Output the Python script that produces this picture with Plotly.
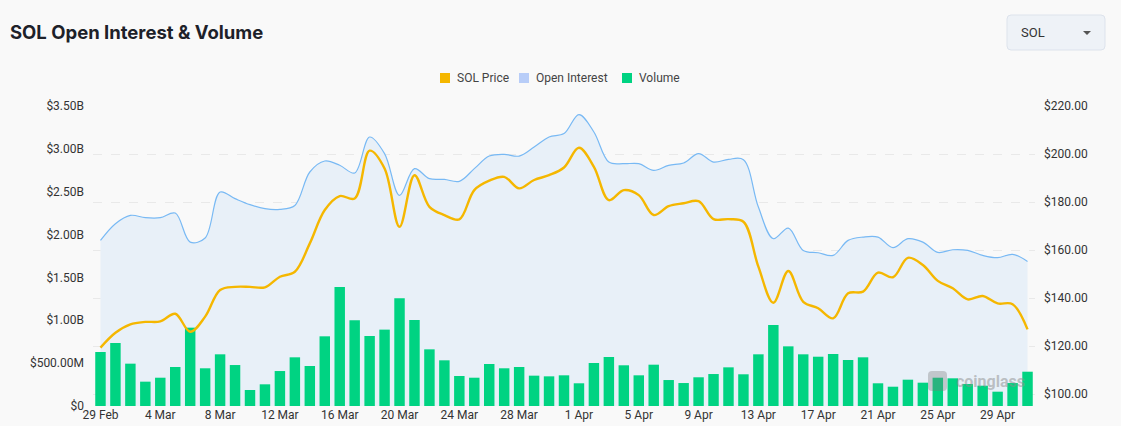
import pandas as pd
import plotly.graph_objects as go

# ---- data ----
dates = [d.strftime("%-d %b") for d in pd.date_range("2024-02-29", "2024-05-01", freq="D")]

volume = [630e6, 735e6, 494e6, 284e6, 330e6, 455e6, 914e6, 440e6, 603e6, 478e6,
          187e6, 253e6, 408e6, 568e6, 467e6, 813e6, 1389e6, 1000e6, 817e6, 891e6,
          1257e6, 1003e6, 661e6, 533e6, 350e6, 330e6, 490e6, 440e6, 455e6, 354e6,
          346e6, 358e6, 265e6, 502e6, 572e6, 475e6, 358e6, 482e6, 303e6, 268e6,
          335e6, 373e6, 451e6, 370e6, 603e6, 945e6, 696e6, 603e6, 575e6, 607e6,
          537e6, 568e6, 265e6, 225e6, 307e6, 272e6, 330e6, 323e6, 257e6, 237e6,
          167e6, 268e6, 400e6]

open_interest = [1.932e9, 2.127e9, 2.224e9, 2.197e9, 2.197e9, 2.251e9, 1.912e9, 1.96e9, 2.496e9, 2.419e9,
                 2.349e9, 2.302e9, 2.294e9, 2.34e9, 2.73e9, 2.858e9, 2.808e9, 2.718e9, 3.138e9, 2.944e9,
                 2.457e9, 2.769e9, 2.652e9, 2.644e9, 2.621e9, 2.769e9, 2.916e9, 2.936e9, 2.916e9, 3.021e9,
                 3.138e9, 3.178e9, 3.40e9, 3.197e9, 2.846e9, 2.827e9, 2.827e9, 2.749e9, 2.808e9, 2.835e9,
                 2.944e9, 2.846e9, 2.878e9, 2.874e9, 2.321e9, 1.952e9, 2.076e9, 1.815e9, 1.788e9, 1.757e9,
                 1.932e9, 1.971e9, 1.971e9, 1.847e9, 1.952e9, 1.912e9, 1.792e9, 1.823e9, 1.815e9, 1.757e9,
                 1.730e9, 1.769e9, 1.687e9]

sol_price = [119.4, 125.6, 129.1, 130.1, 130.3, 133.5, 126.0, 132.3, 143.4, 144.7,
             144.7, 144.5, 148.9, 151.0, 162.8, 176.7, 182.5, 181.5, 201.4, 194.0,
             169.7, 191.2, 178.0, 174.6, 172.8, 185.0, 188.9, 190.5, 185.7, 189.2,
             191.2, 194.4, 202.6, 194.7, 180.8, 185.0, 182.9, 174.6, 178.3, 179.5,
             180.4, 172.9, 172.9, 171.8, 153.1, 138.1, 151.3, 138.5, 135.8, 131.6,
             142.0, 142.7, 150.6, 148.7, 156.8, 153.8, 147.2, 144.1, 139.5, 140.9,
             137.8, 137.5, 127.0]

x_tick_labels = dates[::4]
left_tick_vals = [0, 0.5e9, 1.0e9, 1.5e9, 2.0e9, 2.5e9, 3.0e9, 3.5e9]
left_tick_text = ["$0", "$500.00M", "$1.00B", "$1.50B", "$2.00B", "$2.50B", "$3.00B", "$3.50B"]
right_tick_vals = [100, 120, 140, 160, 180, 200, 220]
right_tick_text = ["$%.2f" % v for v in right_tick_vals]
legend_names = ["SOL Price", "Open Interest", "Volume"]

# ---- style ----
C_PRICE = "#f5b700"
C_OI_LINE = "#78b9f4"
C_OI_FILL = "#e8f0f8"
C_OI_LEG = "#b8cdf8"
C_VOL = "#00d382"
BG = "#f9f9f9"
TXT = "#333333"

W, H = 1121, 426
ML, MR, MT, MB = 93, 86, 106, 20
PW, PH = W - ML - MR, H - MT - MB


def px_x(px):
    return (px - ML) / PW


def px_y(py):
    return (H - MB - py) / PH


def rounded_rect(xa, ya, xb, yb, r):
    pts = [
        f"M {px_x(xa + r)} {px_y(ya)}", f"L {px_x(xb - r)} {px_y(ya)}",
        f"Q {px_x(xb)} {px_y(ya)} {px_x(xb)} {px_y(ya + r)}",
        f"L {px_x(xb)} {px_y(yb - r)}",
        f"Q {px_x(xb)} {px_y(yb)} {px_x(xb - r)} {px_y(yb)}",
        f"L {px_x(xa + r)} {px_y(yb)}",
        f"Q {px_x(xa)} {px_y(yb)} {px_x(xa)} {px_y(yb - r)}",
        f"L {px_x(xa)} {px_y(ya + r)}",
        f"Q {px_x(xa)} {px_y(ya)} {px_x(xa + r)} {px_y(ya)} Z",
    ]
    return " ".join(pts)


fig = go.Figure()

fig.add_trace(go.Scatter(
    x=dates, y=open_interest, yaxis="y", mode="lines", name="Open Interest",
    line=dict(color=C_OI_LINE, width=1.2, shape="spline", smoothing=1.0),
    fill="tozeroy", fillcolor=C_OI_FILL, showlegend=False, hoverinfo="skip"))

fig.add_trace(go.Bar(
    x=dates, y=volume, yaxis="y2", name="Volume",
    marker=dict(color=C_VOL, line=dict(width=0)), showlegend=False))

fig.add_trace(go.Scatter(
    x=dates, y=sol_price, yaxis="y3", mode="lines", name="SOL Price",
    line=dict(color=C_PRICE, width=2.4, shape="spline", smoothing=1.0),
    showlegend=False))

fig.update_layout(
    width=W, height=H, autosize=False,
    margin=dict(l=ML, r=MR, t=MT, b=MB, pad=0, autoexpand=False),
    paper_bgcolor=BG, plot_bgcolor=BG,
    font=dict(family="Roboto, Inter, sans-serif", size=12, color=TXT),
    bargap=0.3,
    showlegend=False,
    title=dict(text="<b>SOL Open Interest &amp; Volume</b>", xref="container", yref="container",
               x=10 / W, xanchor="left", y=1 - 33 / H, yanchor="middle",
               font=dict(family="Inter, Roboto, sans-serif", size=18.5, color="#1d2129")),
    xaxis=dict(type="category", range=[-0.5, len(dates) - 0.5], automargin=False,
               tickmode="array", tickvals=x_tick_labels, ticktext=x_tick_labels,
               showgrid=False, zeroline=False, showline=False, ticks="",
               tickfont=dict(size=12, color=TXT)),
    yaxis=dict(range=[0, 3.5e9], tickvals=left_tick_vals, ticktext=left_tick_text,
               automargin=False,
               showgrid=False, zeroline=False, showline=False, ticks="",
               ticklabelstandoff=8, tickfont=dict(size=12, color=TXT)),
    yaxis2=dict(range=[0, 3.5e9], overlaying="y", visible=False),
    yaxis3=dict(range=[95.1, 220], overlaying="y", side="right", automargin=False,
                tickvals=right_tick_vals, ticktext=right_tick_text,
                showgrid=True, gridcolor="#e9e9e9", griddash="dash", gridwidth=1,
                zeroline=False, showline=False, ticks="",
                ticklabelstandoff=8, tickfont=dict(size=12, color=TXT)),
)

# custom legend (square + label)
legend_cols = [C_PRICE, C_OI_LEG, C_VOL]
legend_sq_x = [440, 519, 622]
for name, col, sx in zip(legend_names, legend_cols, legend_sq_x):
    fig.add_shape(type="rect", xref="paper", yref="paper",
                  x0=px_x(sx), x1=px_x(sx + 10), y0=px_y(83), y1=px_y(73),
                  fillcolor=col, line=dict(width=0), layer="above")
    fig.add_annotation(xref="paper", yref="paper", x=px_x(sx + 15), y=px_y(78), text=name,
                       showarrow=False, xanchor="left", yanchor="middle",
                       font=dict(family="Roboto, sans-serif", size=12, color="#444"))

# selector box
fig.add_shape(type="path", xref="paper", yref="paper", path=rounded_rect(1007, 15, 1105, 50, 4),
              fillcolor="#eef2f7", line=dict(color="#dde3ec", width=1), layer="above")
fig.add_annotation(xref="paper", yref="paper", x=px_x(1019), y=px_y(33), text="SOL",
                   showarrow=False, xanchor="left", yanchor="middle",
                   font=dict(size=13, color="#333"))
fig.add_shape(type="path", xref="paper", yref="paper",
              path="M %f %f L %f %f L %f %f Z" % (px_x(1083), px_y(31), px_x(1091), px_y(31),
                                                 px_x(1087), px_y(35)),
              fillcolor="#555", line=dict(width=0), layer="above")

# watermark
fig.add_annotation(xref="paper", yref="paper", x=px_x(954), y=px_y(381), text="<b>coinglass</b>",
                   showarrow=False, xanchor="left", yanchor="middle",
                   font=dict(family="Roboto, sans-serif", size=16, color="rgba(140,140,140,0.5)"))
fig.add_shape(type="path", xref="paper", yref="paper", path=rounded_rect(928, 371, 947, 391, 4),
              fillcolor="rgba(120,120,120,0.35)", line=dict(width=0), layer="above")

fig.write_html("out.html", config={"displayModeBar": False},
               post_script="document.body.style.margin='0';document.body.style.background='%s';" % BG)
